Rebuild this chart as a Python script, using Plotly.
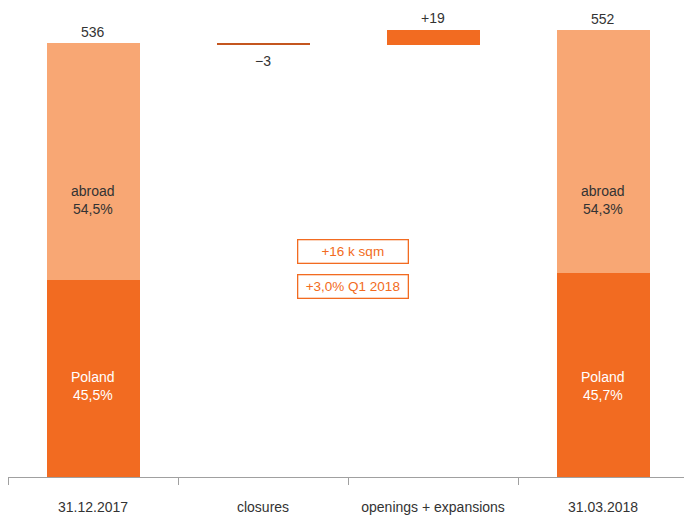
import plotly.graph_objects as go

# Retail space bridge, k sqm
categories = ["31.12.2017", "closures", "openings + expansions", "31.03.2018"]
start_total = 536
closures = -3
openings = 19
end_total = 552
poland_share = [45.5, 45.7]   # % of total at start / end
abroad_share = [54.5, 54.3]
note_lines = ["+16 k sqm", "+3,0% Q1 2018"]

LIGHT = "#F8A774"
DARK = "#F26B21"
LINE = "#C4561F"
TXT = "#333333"
FONT = "Liberation Sans, Arial"

poland_vals = [start_total * poland_share[0] / 100, 0, 0, end_total * poland_share[1] / 100]
abroad_vals = [start_total * abroad_share[0] / 100, 0, 0, end_total * abroad_share[1] / 100]
after_close = start_total + closures
base_vals = [0, after_close, after_close, 0]
delta_vals = [0, -closures, openings, 0]

fig = go.Figure()
bw = 0.547
nol = dict(width=0)
fig.add_bar(x=categories, y=poland_vals, marker=dict(color=DARK, line=nol), width=bw, hoverinfo="skip")
fig.add_bar(x=categories, y=abroad_vals, marker=dict(color=LIGHT, line=nol), width=bw, hoverinfo="skip")
fig.add_bar(x=categories, y=base_vals, marker=dict(color="rgba(0,0,0,0)", line=nol), width=bw, hoverinfo="skip")
fig.add_bar(x=categories, y=delta_vals, width=bw, hoverinfo="skip",
            marker=dict(color=["rgba(0,0,0,0)", LINE, DARK, "rgba(0,0,0,0)"], line=nol))

ann = []
# totals above the end bars
for cat, tot in [(categories[0], start_total), (categories[3], end_total)]:
    ann.append(dict(x=cat, y=tot, text=str(tot), yanchor="bottom", yshift=1,
                    showarrow=False, font=dict(size=14, color=TXT, family=FONT)))
# change labels
ann.append(dict(x=categories[1], y=after_close, text="\u2212" + str(abs(closures)),
                yanchor="top", yshift=-6, showarrow=False,
                font=dict(size=14, color=TXT, family=FONT)))
ann.append(dict(x=categories[2], y=after_close + openings, text="+" + str(openings),
                yanchor="bottom", yshift=2, showarrow=False,
                font=dict(size=14, color=TXT, family=FONT)))
# segment labels
for i, cat in [(0, categories[0]), (1, categories[3])]:
    ann.append(dict(x=cat, y=342, text="abroad<br>" + f"{abroad_share[i]:.1f}".replace(".", ",") + "%",
                    showarrow=False, font=dict(size=14, color=TXT, family=FONT)))
    ann.append(dict(x=cat, y=112, text="Poland<br>" + f"{poland_share[i]:.1f}".replace(".", ",") + "%",
                    showarrow=False, font=dict(size=14, color="white", family=FONT)))
# boxed notes in the middle
for yv, t in zip([279, 235], note_lines):
    ann.append(dict(xref="paper", x=(352.5 - 8) / 676, y=yv, text=t, showarrow=False,
                    width=107, height=20, bordercolor=DARK, borderwidth=1.3, borderpad=1,
                    bgcolor="white", font=dict(size=13.5, color=DARK, family=FONT)))

fig.update_layout(
    barmode="stack",
    showlegend=False,
    width=684, height=517,
    margin=dict(l=8, r=0, t=10, b=40),
    paper_bgcolor="white", plot_bgcolor="white",
    annotations=ann,
    font=dict(family=FONT, size=14, color=TXT),
    xaxis=dict(range=[-0.5, 3.476], showline=True, linecolor="#A0A0A0", linewidth=1,
               ticks="outside", tickson="boundaries", ticklen=7, tickcolor="#A0A0A0",
               ticklabelstandoff=17,
               tickfont=dict(size=14, color=TXT, family=FONT), showgrid=False, fixedrange=True),
    yaxis=dict(range=[0, 467 / 0.8097], visible=False, showgrid=False, zeroline=False),
)

fig.write_html("out.html")
